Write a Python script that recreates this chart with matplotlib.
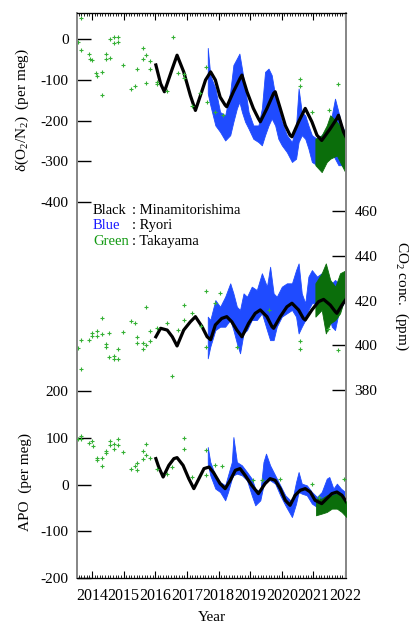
import numpy as np
import matplotlib
matplotlib.use('Agg')
import matplotlib.pyplot as plt
from matplotlib.ticker import MultipleLocator

plt.rcParams['font.family'] = ['Liberation Serif', 'DejaVu Serif']
plt.rcParams['mathtext.fontset'] = 'custom'
plt.rcParams['mathtext.rm'] = 'Liberation Serif'
plt.rcParams['mathtext.it'] = 'Liberation Serif:italic'
plt.rcParams['axes.unicode_minus'] = False

# ---------------- d(O2/N2) (per meg) ----------------
# Takayama flask samples (green crosses)
o2_tk_t = [2013.55, 2013.64, 2013.66, 2013.90, 2013.95, 2014.00, 2014.13, 2014.15, 2014.33, 2014.33,
           2014.44, 2014.45, 2014.56, 2014.56, 2014.69, 2014.83, 2014.69, 2014.83, 2014.99, 2015.22,
           2015.37, 2015.43, 2015.61, 2015.61, 2015.72, 2015.72, 2015.85, 2015.85, 2016.05, 2016.06,
           2016.36, 2016.55, 2016.72, 2016.92, 2016.92, 2017.17, 2017.42, 2017.62, 2017.65, 2017.90,
           2018.13, 2020.56, 2020.56, 2020.95, 2021.50, 2021.76]
o2_tk_v = [-6, 52, -26, -36, -49, -51, -84, -90, -81, -138,
           -37, -48, -47, 2, 6, 5, -10, -6, -62, -123,
           -115, -74, -21, -49, -39, -107, -53, -73, -105, -111,
           -126, 7, -82, -86, -95, -165, -133, -69, -154, -179,
           -187, -98, -115, -180, -175, -110]

# Minamitorishima (black)
o2_mn_t = [2016.02, 2016.17, 2016.29, 2016.54, 2016.69, 2016.90, 2017.11, 2017.27, 2017.43, 2017.59,
           2017.75, 2017.90, 2018.05, 2018.21, 2018.26, 2018.47, 2018.68, 2018.74, 2018.90, 2019.10,
           2019.26, 2019.32, 2019.53, 2019.74, 2019.79, 2019.95, 2020.11, 2020.26, 2020.32, 2020.53,
           2020.74, 2020.95, 2021.11, 2021.26, 2021.53, 2021.74, 2021.79, 2021.95, 2022.05]
o2_mn_v = [-63, -109, -129, -72, -39, -80, -138, -175, -138, -100,
           -80, -100, -142, -162, -166, -129, -96, -88, -129, -170,
           -195, -203, -170, -133, -129, -170, -212, -236, -240, -203,
           -170, -203, -236, -249, -220, -195, -187, -228, -244]

# Ryori (blue), upper / lower envelope
o2_ry_t = [2017.66, 2017.74, 2017.90, 2018.05, 2018.21, 2018.37, 2018.47, 2018.58, 2018.66, 2018.74,
           2018.84, 2018.95, 2019.10, 2019.26, 2019.37, 2019.47, 2019.58, 2019.68, 2019.79, 2019.89,
           2020.00, 2020.16, 2020.32, 2020.45, 2020.53, 2020.63, 2020.74, 2020.84, 2020.95, 2021.11,
           2021.26, 2021.42, 2021.58, 2021.68, 2021.79, 2021.89, 2022.00]
o2_ry_hi = [-21, -88, -121, -179, -187, -129, -63, -47, -35, -72,
            -121, -179, -212, -212, -170, -80, -72, -88, -138, -170,
            -203, -236, -253, -212, -121, -179, -187, -212, -236, -245,
            -236, -220, -187, -146, -179, -212, -228]
o2_ry_lo = [-133, -162, -212, -228, -249, -236, -203, -170, -154, -179,
            -203, -220, -245, -253, -261, -236, -212, -195, -212, -245,
            -261, -278, -302, -294, -253, -236, -245, -269, -302, -310,
            -302, -286, -278, -294, -310, -310, -318]

# Takayama continuous (dark green)
o2_tc_t = [2021.06, 2021.26, 2021.42, 2021.53, 2021.74, 2021.89, 2022.03]
o2_tc_hi = [-245, -236, -212, -187, -203, -220, -228]
o2_tc_lo = [-310, -327, -302, -294, -286, -310, -331]

# ---------------- CO2 (ppm) ----------------
co2_tk_t = [2013.57, 2013.66, 2013.66, 2013.90, 2013.99, 2013.99, 2014.15, 2014.15, 2014.33, 2014.33,
            2014.44, 2014.44, 2014.55, 2014.55, 2014.69, 2014.69, 2014.83, 2014.83, 2014.99, 2015.22,
            2015.37, 2015.43, 2015.43, 2015.61, 2015.61, 2015.72, 2015.72, 2015.85, 2015.85, 2016.06,
            2016.36, 2016.54, 2016.73, 2016.90, 2016.90, 2017.15, 2017.45, 2017.62, 2017.62, 2017.90,
            2018.05, 2018.58, 2019.58, 2020.56, 2020.56, 2021.47, 2021.76]
co2_tk_v = [398.6, 402.3, 389.2, 402.3, 405.3, 404.3, 406.2, 404.3, 404.9, 412.3,
            400.7, 399.2, 405.3, 394.6, 395.2, 393.7, 393.7, 398.3, 405.8, 410.8,
            410.1, 403.6, 400.9, 400.9, 398.2, 417.2, 400.1, 406.2, 402.0, 407.6,
            409.8, 386.3, 406.8, 418.0, 411.3, 414.6, 408.7, 424.1, 399.1, 418.8,
            423.2, 399.4, 415.8, 401.9, 398.2, 407.3, 397.9]

co2_mn_t = [2016.02, 2016.17, 2016.38, 2016.54, 2016.69, 2016.90, 2017.11, 2017.27, 2017.48, 2017.64,
            2017.75, 2017.90, 2018.10, 2018.26, 2018.42, 2018.58, 2018.74, 2018.95, 2019.16, 2019.32,
            2019.53, 2019.69, 2019.74, 2019.95, 2020.16, 2020.32, 2020.53, 2020.68, 2020.74, 2020.95,
            2021.16, 2021.32, 2021.53, 2021.69, 2021.74, 2021.90, 2022.05]
co2_mn_v = [403.8, 407.6, 406.8, 403.8, 399.7, 406.8, 410.5, 412.8, 408.3, 403.8,
            402.5, 409.1, 412.0, 412.8, 410.5, 406.8, 403.8, 409.8, 414.3, 415.8,
            412.8, 408.3, 407.6, 412.8, 417.2, 418.8, 415.8, 412.0, 411.3, 415.8,
            419.5, 420.5, 418.0, 415.0, 414.3, 418.0, 421.0]

co2_ry_t = [2017.66, 2017.74, 2017.90, 2018.05, 2018.21, 2018.37, 2018.47, 2018.58, 2018.68, 2018.79,
            2018.90, 2019.05, 2019.21, 2019.37, 2019.53, 2019.63, 2019.74, 2019.84, 2020.00, 2020.16,
            2020.32, 2020.45, 2020.53, 2020.63, 2020.74, 2020.84, 2020.95, 2021.11, 2021.26, 2021.42,
            2021.58, 2021.68, 2021.79, 2021.89, 2022.00]
co2_ry_hi = [412.8, 411.3, 420.2, 417.2, 421.7, 427.7, 423.2, 417.2, 415.8, 423.2,
             421.7, 426.2, 424.7, 432.2, 426.2, 435.1, 423.2, 421.7, 426.2, 427.7,
             427.7, 433.6, 436.6, 423.2, 418.8, 430.7, 433.6, 430.7, 432.2, 429.2,
             427.7, 429.2, 427.7, 430.7, 430.7]
co2_ry_lo = [394.2, 399.4, 406.8, 408.3, 408.3, 411.3, 406.8, 400.9, 396.4, 405.3,
             406.8, 411.3, 411.3, 414.3, 406.8, 402.3, 402.3, 408.3, 412.8, 414.3,
             415.8, 412.8, 405.3, 408.3, 411.3, 415.8, 418.8, 418.8, 420.2, 417.2,
             408.3, 406.8, 414.3, 417.2, 420.2]

co2_tc_t = [2021.06, 2021.26, 2021.39, 2021.53, 2021.69, 2021.84, 2022.03]
co2_tc_hi = [427.7, 432.2, 436.6, 429.2, 426.2, 432.2, 433.6]
co2_tc_lo = [412.8, 415.8, 405.3, 409.8, 411.3, 414.3, 423.2]

# ---------------- APO (per meg) ----------------
apo_tk_t = [2013.57, 2013.67, 2013.67, 2013.90, 2013.99, 2014.02, 2014.15, 2014.15, 2014.33, 2014.33,
            2014.44, 2014.44, 2014.56, 2014.56, 2014.69, 2014.69, 2014.83, 2014.83, 2014.99, 2015.22,
            2015.37, 2015.43, 2015.43, 2015.61, 2015.61, 2015.72, 2015.72, 2015.85, 2016.06, 2016.36,
            2016.54, 2016.90, 2016.90, 2017.17, 2017.62, 2017.62, 2017.90, 2018.10, 2019.10, 2019.37,
            2019.95, 2020.95, 2021.16, 2021.95]
apo_tk_v = [97.0, 104.1, 97.0, 89.9, 92.7, 82.6, 57.8, 52.0, 57.8, 39.8,
            71.3, 67.0, 93.3, 84.1, 86.3, 75.6, 97.0, 85.6, 69.8, 34.3,
            39.8, 46.2, 30.6, 71.3, 55.7, 86.3, 62.7, 57.8, 34.3, 23.5,
            37.7, 100.6, 77.1, 16.3, 73.4, 19.9, 41.3, 39.8, 9.2, 9.2,
            12.8, 2.1, -26.5, 11.3]

apo_mn_t = [2016.02, 2016.11, 2016.25, 2016.43, 2016.59, 2016.69, 2016.88, 2017.06, 2017.22, 2017.38,
            2017.54, 2017.70, 2017.85, 2018.05, 2018.21, 2018.37, 2018.53, 2018.68, 2018.84, 2019.05,
            2019.26, 2019.47, 2019.63, 2019.79, 2019.95, 2020.11, 2020.26, 2020.42, 2020.58, 2020.74,
            2020.90, 2021.05, 2021.26, 2021.42, 2021.58, 2021.74, 2021.90, 2022.04]
apo_mn_v = [55.7, 37.7, 16.3, 41.3, 55.7, 57.8, 41.3, 12.8, -8.6, 12.8,
            34.3, 37.7, 25.0, 2.1, -8.6, 9.2, 30.6, 34.3, 19.9, -1.5,
            -19.3, 2.1, 12.8, 9.2, -8.6, -33.6, -44.3, -22.9, -12.2, -8.6,
            -15.8, -33.6, -40.7, -30.0, -19.3, -15.8, -22.9, -37.2]

apo_ry_t = [2017.66, 2017.74, 2017.90, 2018.05, 2018.21, 2018.30, 2018.42, 2018.47, 2018.58, 2018.74,
            2018.90, 2019.05, 2019.16, 2019.32, 2019.42, 2019.50, 2019.63, 2019.79, 2019.95, 2020.11,
            2020.32, 2020.45, 2020.53, 2020.63, 2020.79, 2020.95, 2021.11, 2021.26, 2021.42, 2021.50,
            2021.63, 2021.74, 2021.87, 2022.00]
apo_ry_hi = [80.5, 48.4, 19.9, 5.6, -1.5, 19.9, 48.4, 101.9, 48.4, 41.3,
             27.0, 12.8, -8.6, -15.8, 48.4, 66.4, 41.3, 19.9, -1.5, -22.9,
             -37.2, 5.6, 27.0, 2.1, -1.5, -15.8, -26.5, -15.8, 12.8, 16.3,
             -8.6, 2.1, -8.6, -15.8]
apo_ry_lo = [45.0, 19.9, -8.6, -15.8, -33.6, -15.8, 12.8, 19.9, 23.5, 19.9,
             9.2, -22.9, -44.3, -33.6, -1.5, 12.8, 9.2, 2.1, -22.9, -44.3,
             -69.4, -40.7, -15.8, -19.3, -22.9, -40.7, -48.0, -44.3, -22.9, -26.5,
             -33.6, -26.5, -40.7, -48.0]

apo_tc_t = [2021.08, 2021.26, 2021.42, 2021.58, 2021.74, 2021.89, 2022.04]
apo_tc_hi = [-30.0, -30.0, -22.9, -22.9, -19.3, -26.5, -37.2]
apo_tc_lo = [-65.7, -62.1, -58.6, -51.4, -51.4, -58.6, -69.4]

years = list(range(2014, 2023))

blue = '#1f4bff'
dkgreen = '#0b6e0b'
ltgreen = '#35b035'

fig = plt.figure(figsize=(4.12, 6.28), dpi=100)
ax = fig.add_axes([0.187, 0.0796, 0.653, 0.8997])
ax2 = ax.twinx()   # CO2, right
ax3 = ax.twinx()   # APO, left
ax3.yaxis.tick_left()
ax3.yaxis.set_label_position('left')

def draw(a, tk_t, tk_v, ry_t, ry_hi, ry_lo, tc_t, tc_hi, tc_lo, mn_t, mn_v):
   a.fill_between(ry_t, ry_lo, ry_hi, color=blue, lw=0.6, zorder=2)
   a.fill_between(tc_t, tc_lo, tc_hi, color=dkgreen, lw=0.6, zorder=3)
   a.plot(mn_t, mn_v, color='black', lw=2.3, zorder=4)
   a.plot(tk_t, tk_v, '+', color=ltgreen, ms=3.5, mew=0.8, zorder=5)

draw(ax, o2_tk_t, o2_tk_v, o2_ry_t, o2_ry_hi, o2_ry_lo, o2_tc_t, o2_tc_hi, o2_tc_lo, o2_mn_t, o2_mn_v)
draw(ax2, co2_tk_t, co2_tk_v, co2_ry_t, co2_ry_hi, co2_ry_lo, co2_tc_t, co2_tc_hi, co2_tc_lo, co2_mn_t, co2_mn_v)
draw(ax3, apo_tk_t, apo_tk_v, apo_ry_t, apo_ry_hi, apo_ry_lo, apo_tc_t, apo_tc_hi, apo_tc_lo, apo_mn_t, apo_mn_v)

ax.set_xlim(2013.53, 2022.03)
ax.set_ylim(-1327, 65)
ax2.set_ylim(296.0, 548.5)
ax3.set_ylim(-200, 1010)

ax.set_yticks([0, -100, -200, -300, -400])
ax2.set_yticks([380, 400, 420, 440, 460])
ax3.set_yticks([-200, -100, 0, 100, 200])

ax.set_xticks(years)
ax.set_xticklabels([str(y) for y in years])
ax.xaxis.set_minor_locator(MultipleLocator(1 / 12))
ax.tick_params(axis='x', which='major', direction='in', length=5, width=0.8, top=True, labelsize=11.5, pad=7)
ax.tick_params(axis='x', which='minor', direction='in', length=2.5, width=0.6, top=True)
ax.tick_params(axis='y', direction='in', length=10, width=1.0, labelsize=11, pad=6)
ax2.tick_params(axis='y', direction='in', length=10, width=1.0, labelsize=11, pad=6)
ax3.tick_params(axis='y', direction='in', length=10, width=1.0, labelsize=11, pad=6)

for a in (ax, ax2, ax3):
   for s in ('left', 'right'):
      a.spines[s].set_color('#888888')
      a.spines[s].set_linewidth(1.4)
   a.spines['top'].set_linewidth(0.8)
   a.spines['bottom'].set_linewidth(0.8)

ax.text(-0.205, 0.828, 'δ(O$_2$/N$_2$)  (per meg)', transform=ax.transAxes, rotation=90,
        ha='center', va='center', fontsize=11)
ax3.text(-0.194, 0.170, 'APO  (per meg)', transform=ax.transAxes, rotation=90,
         ha='center', va='center', fontsize=11)
ax2.text(1.208, 0.499, 'CO$_2$ conc.  (ppm)', transform=ax.transAxes, rotation=270,
         ha='center', va='center', fontsize=11)
ax.set_xlabel('Year', fontsize=11, labelpad=5)

leg_y = [0.650, 0.624, 0.596]
leg_names = ['Black', 'Blue', 'Green']
leg_sites = [': Minamitorishima', ': Ryori', ': Takayama']
leg_cols = ['black', '#1a1aff', '#119911']
for yy, n, s, c in zip(leg_y, leg_names, leg_sites, leg_cols):
   ax.text(0.059, yy, n, color=c, transform=ax.transAxes, ha='left', va='center', fontsize=10.5, zorder=6)
   ax.text(0.203, yy, s, color='black', transform=ax.transAxes, ha='left', va='center', fontsize=10.5, zorder=6)

fig.savefig('out.png', dpi=100)
